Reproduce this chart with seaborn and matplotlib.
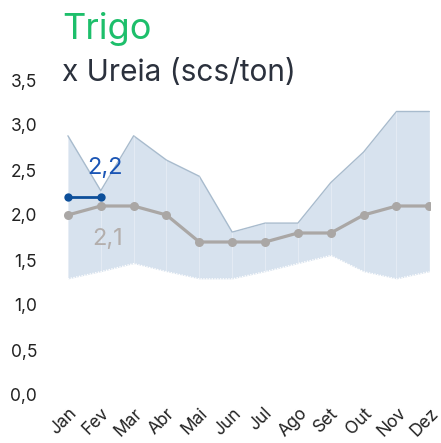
import numpy as np
import pandas as pd
import seaborn as sns
import matplotlib.pyplot as plt

# data
months = ["Jan", "Fev", "Mar", "Abr", "Mai", "Jun", "Jul", "Ago", "Set", "Out", "Nov", "Dez"]
band_high = [2.88, 2.27, 2.88, 2.61, 2.43, 1.81, 1.91, 1.91, 2.36, 2.70, 3.15, 3.15]
band_low = [1.29, 1.37, 1.46, 1.37, 1.29, 1.29, 1.37, 1.46, 1.55, 1.37, 1.29, 1.37]
prev_year = [2.0, 2.1, 2.1, 2.0, 1.7, 1.7, 1.7, 1.8, 1.8, 2.0, 2.1, 2.1]
this_year = [2.2, 2.2]
yticks = [0.0, 0.5, 1.0, 1.5, 2.0, 2.5, 3.0, 3.5]

sns.set_style("white")
plt.rcParams["font.family"] = ["Inter", "DejaVu Sans"]

fig = plt.figure(figsize=(4.41, 4.43), dpi=100)
ax = fig.add_axes([62 / 441, 48 / 443, 368 / 441, 315 / 443])

x = np.arange(len(months))
ax.fill_between(x, band_low, band_high, color="#d7e2ee", lw=0, zorder=1)
ax.plot(x, band_high, color="#a8bbcd", lw=1, zorder=2)
ax.plot(x, band_low, color="white", lw=1, ls=(0, (1, 1)), zorder=2)
ax.vlines(x[1:-1], band_low[1:-1], band_high[1:-1], color="white", lw=0.8, alpha=0.3, zorder=2)

df_prev = pd.DataFrame({"x": x, "v": prev_year})
df_now = pd.DataFrame({"x": x[:len(this_year)], "v": this_year})
sns.lineplot(data=df_prev, x="x", y="v", ax=ax, color="#aaa7a5", lw=2.3,
             marker="o", markersize=6.5, markeredgewidth=0, zorder=3)
sns.lineplot(data=df_now, x="x", y="v", ax=ax, color="#0d4f9a", lw=2,
             marker="o", markersize=6, markeredgewidth=0, zorder=4)

ax.annotate("2,2", (1, this_year[-1]), xytext=(3, 21), textcoords="offset points",
            ha="center", va="center", fontsize=17, color="#1a55b5")
ax.annotate("2,1", (1, prev_year[1]), xytext=(5, -24), textcoords="offset points",
            ha="center", va="center", fontsize=17, color="#b3aeac")

ax.set_xlim(-0.18, 11.02)
ax.set_ylim(0, 3.5)
ax.set_yticks(yticks)
ax.set_yticklabels([f"{t:.1f}".replace(".", ",") for t in yticks])
ax.set_xticks(x)
ax.set_xticklabels([])
# month labels, rotated and nudged a bit left like the original
for xi, m in zip(x, months):
    ax.annotate(m, (xi, 0), xytext=(-3.5, -7), textcoords="offset points",
                rotation=45, ha="center", va="top", fontsize=12.5,
                color="#222222", annotation_clip=False)
ax.tick_params(axis="y", length=0, pad=18, labelsize=12.5, labelcolor="#222222")
ax.tick_params(axis="x", length=0)
ax.set_xlabel("")
ax.set_ylabel("")
sns.despine(ax=ax, left=True, bottom=True)

fig.text(62 / 441, 1 - 39 / 443, "Trigo", fontsize=26, color="#1dbf6b", va="baseline")
fig.text(62 / 441, 1 - 81 / 443, "x Ureia (scs/ton)", fontsize=21.5, color="#2b313d", va="baseline")

fig.savefig("out.png", dpi=100)
